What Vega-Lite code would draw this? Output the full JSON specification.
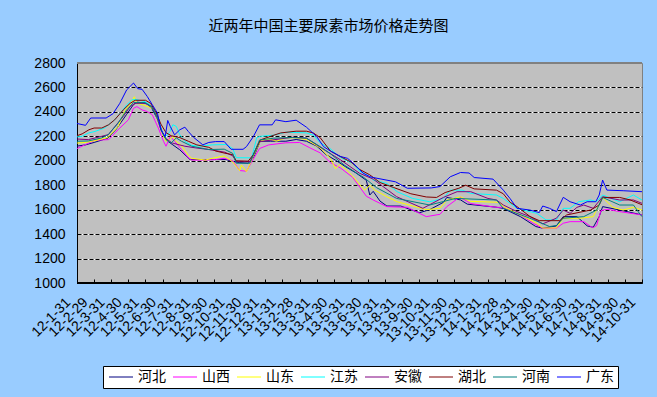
{
"$schema":"https://vega.github.io/schema/vega-lite/v6.json",
"width":565,"height":220,
"autosize":{"type":"none"},
"padding":{"left":77,"top":63,"right":15,"bottom":114},
"background":"#99CCFF",
"title":{"text":"近两年中国主要尿素市场价格走势图","font":"Noto Sans CJK SC","fontSize":15,"fontWeight":"normal","color":"#000000","anchor":"middle","dx":-31,"offset":22},
"datasets":{"d":[
{"s":"河北","t":0,"v":2120},{"s":"河北","t":0.5,"v":2130},{"s":"河北","t":1.0,"v":2150},{"s":"河北","t":1.8,"v":2185},{"s":"河北","t":2.3,"v":2260},{"s":"河北","t":2.9,"v":2380},{"s":"河北","t":3.3,"v":2460},{"s":"河北","t":3.5,"v":2480},{"s":"河北","t":4.1,"v":2470},{"s":"河北","t":4.4,"v":2420},{"s":"河北","t":4.7,"v":2340},{"s":"河北","t":4.95,"v":2240},{"s":"河北","t":5.15,"v":2185},{"s":"河北","t":5.3,"v":2160},{"s":"河北","t":5.6,"v":2130},{"s":"河北","t":6.0,"v":2090},{"s":"河北","t":6.6,"v":2010},{"s":"河北","t":8.7,"v":2010},{"s":"河北","t":9.1,"v":1995},{"s":"河北","t":9.5,"v":1985},{"s":"河北","t":10.0,"v":1980},{"s":"河北","t":10.3,"v":2024},{"s":"河北","t":10.7,"v":2160},{"s":"河北","t":11.3,"v":2160},{"s":"河北","t":12.2,"v":2160},{"s":"河北","t":12.8,"v":2174},{"s":"河北","t":13.4,"v":2160},{"s":"河北","t":14.0,"v":2120},{"s":"河北","t":14.55,"v":2050},{"s":"河北","t":15.1,"v":2005},{"s":"河北","t":15.7,"v":1950},{"s":"河北","t":16.3,"v":1900},{"s":"河北","t":16.9,"v":1840},{"s":"河北","t":17.1,"v":1720},{"s":"河北","t":17.3,"v":1750},{"s":"河北","t":17.7,"v":1670},{"s":"河北","t":18.1,"v":1630},{"s":"河北","t":18.9,"v":1630},{"s":"河北","t":20.0,"v":1575},{"s":"河北","t":20.6,"v":1600},{"s":"河北","t":21.4,"v":1660},{"s":"河北","t":21.6,"v":1700},{"s":"河北","t":22.4,"v":1680},{"s":"河北","t":22.8,"v":1645},{"s":"河北","t":24.5,"v":1620},{"s":"河北","t":24.9,"v":1610},{"s":"河北","t":25.9,"v":1543},{"s":"河北","t":26.8,"v":1462},{"s":"河北","t":27.2,"v":1448},{"s":"河北","t":28.0,"v":1467},{"s":"河北","t":28.4,"v":1543},{"s":"河北","t":29.2,"v":1543},{"s":"河北","t":29.8,"v":1467},{"s":"河北","t":30.15,"v":1456},{"s":"河北","t":30.5,"v":1543},{"s":"河北","t":30.7,"v":1625},{"s":"河北","t":31.7,"v":1597},{"s":"河北","t":33,"v":1557},
{"s":"山西","t":0,"v":2100},{"s":"山西","t":0.5,"v":2133},{"s":"山西","t":1.05,"v":2168},{"s":"山西","t":1.85,"v":2173},{"s":"山西","t":2.4,"v":2254},{"s":"山西","t":3.0,"v":2335},{"s":"山西","t":3.3,"v":2430},{"s":"山西","t":3.5,"v":2443},{"s":"山西","t":3.8,"v":2416},{"s":"山西","t":4.1,"v":2403},{"s":"山西","t":4.4,"v":2376},{"s":"山西","t":4.75,"v":2268},{"s":"山西","t":5.05,"v":2160},{"s":"山西","t":5.2,"v":2119},{"s":"山西","t":5.45,"v":2200},{"s":"山西","t":5.7,"v":2160},{"s":"山西","t":6.1,"v":2092},{"s":"山西","t":6.5,"v":2025},{"s":"山西","t":6.7,"v":2006},{"s":"山西","t":7.5,"v":2006},{"s":"山西","t":8.1,"v":2010},{"s":"山西","t":8.6,"v":2020},{"s":"山西","t":9.1,"v":2000},{"s":"山西","t":9.5,"v":1920},{"s":"山西","t":9.9,"v":1915},{"s":"山西","t":10.1,"v":1966},{"s":"山西","t":10.66,"v":2100},{"s":"山西","t":11.2,"v":2130},{"s":"山西","t":12.2,"v":2147},{"s":"山西","t":13.0,"v":2150},{"s":"山西","t":13.6,"v":2106},{"s":"山西","t":14.2,"v":2065},{"s":"山西","t":14.8,"v":1985},{"s":"山西","t":15.4,"v":1940},{"s":"山西","t":16.1,"v":1865},{"s":"山西","t":16.9,"v":1710},{"s":"山西","t":17.3,"v":1679},{"s":"山西","t":18.1,"v":1625},{"s":"山西","t":19.3,"v":1619},{"s":"山西","t":20.4,"v":1543},{"s":"山西","t":21.2,"v":1562},{"s":"山西","t":21.6,"v":1625},{"s":"山西","t":22.2,"v":1687},{"s":"山西","t":22.4,"v":1700},{"s":"山西","t":23.0,"v":1650},{"s":"山西","t":24.5,"v":1619},{"s":"山西","t":24.9,"v":1619},{"s":"山西","t":25.9,"v":1557},{"s":"山西","t":26.65,"v":1489},{"s":"山西","t":27.2,"v":1448},{"s":"山西","t":28.0,"v":1448},{"s":"山西","t":28.4,"v":1489},{"s":"山西","t":28.8,"v":1502},{"s":"山西","t":29.6,"v":1502},{"s":"山西","t":30.0,"v":1462},{"s":"山西","t":30.15,"v":1454},{"s":"山西","t":30.35,"v":1470},{"s":"山西","t":30.6,"v":1592},{"s":"山西","t":30.95,"v":1603},{"s":"山西","t":31.7,"v":1584},{"s":"山西","t":33,"v":1557},
{"s":"山东","t":0,"v":2145},{"s":"山东","t":0.5,"v":2150},{"s":"山东","t":1.05,"v":2165},{"s":"山东","t":1.8,"v":2190},{"s":"山东","t":2.4,"v":2280},{"s":"山东","t":2.8,"v":2410},{"s":"山东","t":3.2,"v":2480},{"s":"山东","t":3.35,"v":2524},{"s":"山东","t":3.5,"v":2470},{"s":"山东","t":3.8,"v":2460},{"s":"山东","t":4.3,"v":2435},{"s":"山东","t":4.5,"v":2420},{"s":"山东","t":4.7,"v":2335},{"s":"山东","t":5.0,"v":2215},{"s":"山东","t":5.2,"v":2160},{"s":"山东","t":5.4,"v":2173},{"s":"山东","t":5.6,"v":2200},{"s":"山东","t":5.75,"v":2165},{"s":"山东","t":6.1,"v":2125},{"s":"山东","t":6.5,"v":2045},{"s":"山东","t":6.7,"v":2020},{"s":"山东","t":7.5,"v":2006},{"s":"山东","t":7.9,"v":2020},{"s":"山东","t":8.6,"v":2040},{"s":"山东","t":9.1,"v":1990},{"s":"山东","t":9.5,"v":1919},{"s":"山东","t":9.6,"v":1965},{"s":"山东","t":9.9,"v":1911},{"s":"山东","t":10.3,"v":2038},{"s":"山东","t":10.7,"v":2160},{"s":"山东","t":11.2,"v":2180},{"s":"山东","t":11.65,"v":2160},{"s":"山东","t":12.2,"v":2188},{"s":"山东","t":12.8,"v":2188},{"s":"山东","t":13.4,"v":2174},{"s":"山东","t":14.2,"v":2106},{"s":"山东","t":14.8,"v":2020},{"s":"山东","t":15.1,"v":1935},{"s":"山东","t":15.35,"v":1970},{"s":"山东","t":15.7,"v":1930},{"s":"山东","t":16.1,"v":1875},{"s":"山东","t":16.6,"v":1790},{"s":"山东","t":16.8,"v":1760},{"s":"山东","t":17.1,"v":1800},{"s":"山东","t":17.4,"v":1760},{"s":"山东","t":18.1,"v":1706},{"s":"山东","t":18.7,"v":1665},{"s":"山东","t":20.4,"v":1600},{"s":"山东","t":21.2,"v":1611},{"s":"山东","t":21.6,"v":1679},{"s":"山东","t":22.4,"v":1705},{"s":"山东","t":23.0,"v":1668},{"s":"山东","t":24.7,"v":1660},{"s":"山东","t":24.9,"v":1625},{"s":"山东","t":26.1,"v":1543},{"s":"山东","t":26.85,"v":1489},{"s":"山东","t":27.2,"v":1450},{"s":"山东","t":28.0,"v":1450},{"s":"山东","t":28.4,"v":1530},{"s":"山东","t":29.4,"v":1530},{"s":"山东","t":30.15,"v":1543},{"s":"山东","t":30.7,"v":1700},{"s":"山东","t":31.3,"v":1619},{"s":"山东","t":31.9,"v":1597},{"s":"山东","t":32.5,"v":1619},{"s":"山东","t":33,"v":1597},
{"s":"江苏","t":0,"v":2195},{"s":"江苏","t":0.3,"v":2200},{"s":"江苏","t":0.66,"v":2227},{"s":"江苏","t":1.05,"v":2240},{"s":"江苏","t":1.6,"v":2268},{"s":"江苏","t":2.2,"v":2335},{"s":"江苏","t":2.6,"v":2403},{"s":"江苏","t":2.9,"v":2457},{"s":"江苏","t":3.2,"v":2497},{"s":"江苏","t":3.4,"v":2503},{"s":"江苏","t":3.97,"v":2484},{"s":"江苏","t":4.26,"v":2457},{"s":"江苏","t":4.56,"v":2403},{"s":"江苏","t":4.85,"v":2281},{"s":"江苏","t":5.04,"v":2214},{"s":"江苏","t":5.2,"v":2200},{"s":"江苏","t":5.43,"v":2240},{"s":"江苏","t":5.6,"v":2295},{"s":"江苏","t":5.8,"v":2281},{"s":"江苏","t":6.0,"v":2214},{"s":"江苏","t":6.3,"v":2160},{"s":"江苏","t":6.7,"v":2125},{"s":"江苏","t":7.3,"v":2120},{"s":"江苏","t":7.9,"v":2130},{"s":"江苏","t":8.7,"v":2133},{"s":"江苏","t":9.1,"v":2100},{"s":"江苏","t":9.3,"v":2025},{"s":"江苏","t":10.2,"v":2024},{"s":"江苏","t":10.5,"v":2190},{"s":"江苏","t":10.7,"v":2200},{"s":"江苏","t":11.5,"v":2210},{"s":"江苏","t":12.2,"v":2234},{"s":"江苏","t":13.4,"v":2228},{"s":"江苏","t":13.8,"v":2210},{"s":"江苏","t":14.2,"v":2147},{"s":"江苏","t":14.78,"v":2100},{"s":"江苏","t":15.35,"v":2030},{"s":"江苏","t":16.1,"v":1977},{"s":"江苏","t":16.5,"v":1916},{"s":"江苏","t":17.1,"v":1870},{"s":"江苏","t":17.3,"v":1842},{"s":"江苏","t":18.1,"v":1815},{"s":"江苏","t":18.7,"v":1747},{"s":"江苏","t":19.6,"v":1692},{"s":"江苏","t":20.6,"v":1665},{"s":"江苏","t":21.4,"v":1692},{"s":"江苏","t":21.8,"v":1760},{"s":"江苏","t":22.5,"v":1760},{"s":"江苏","t":23.0,"v":1733},{"s":"江苏","t":24.5,"v":1720},{"s":"江苏","t":24.9,"v":1692},{"s":"江苏","t":25.7,"v":1611},{"s":"江苏","t":26.45,"v":1584},{"s":"江苏","t":26.85,"v":1570},{"s":"江苏","t":27.4,"v":1516},{"s":"江苏","t":28.0,"v":1516},{"s":"江苏","t":28.4,"v":1611},{"s":"江苏","t":28.8,"v":1611},{"s":"江苏","t":29.3,"v":1665},{"s":"江苏","t":30.0,"v":1679},{"s":"江苏","t":30.35,"v":1665},{"s":"江苏","t":30.7,"v":1720},{"s":"江苏","t":31.7,"v":1665},{"s":"江苏","t":32.5,"v":1720},{"s":"江苏","t":33,"v":1679},
{"s":"安徽","t":0,"v":2178},{"s":"安徽","t":0.66,"v":2173},{"s":"安徽","t":1.44,"v":2200},{"s":"安徽","t":1.83,"v":2214},{"s":"安徽","t":2.22,"v":2281},{"s":"安徽","t":2.7,"v":2362},{"s":"安徽","t":3.1,"v":2443},{"s":"安徽","t":3.4,"v":2470},{"s":"安徽","t":3.97,"v":2470},{"s":"安徽","t":4.36,"v":2443},{"s":"安徽","t":4.65,"v":2362},{"s":"安徽","t":4.9,"v":2254},{"s":"安徽","t":5.15,"v":2187},{"s":"安徽","t":5.55,"v":2146},{"s":"安徽","t":5.9,"v":2133},{"s":"安徽","t":6.3,"v":2119},{"s":"安徽","t":6.9,"v":2106},{"s":"安徽","t":7.7,"v":2092},{"s":"安徽","t":8.64,"v":2070},{"s":"安徽","t":9.1,"v":2040},{"s":"安徽","t":9.3,"v":1993},{"s":"安徽","t":10.1,"v":1993},{"s":"安徽","t":10.66,"v":2157},{"s":"安徽","t":11.4,"v":2170},{"s":"安徽","t":12.6,"v":2193},{"s":"安徽","t":13.4,"v":2185},{"s":"安徽","t":14.0,"v":2130},{"s":"安徽","t":14.55,"v":2080},{"s":"安徽","t":15.4,"v":2007},{"s":"安徽","t":16.5,"v":1898},{"s":"安徽","t":17.3,"v":1850},{"s":"安徽","t":18.67,"v":1706},{"s":"安徽","t":20.2,"v":1611},{"s":"安徽","t":21.4,"v":1700},{"s":"安徽","t":22.2,"v":1747},{"s":"安徽","t":23.0,"v":1747},{"s":"安徽","t":24.0,"v":1692},{"s":"安徽","t":24.5,"v":1679},{"s":"安徽","t":24.9,"v":1638},{"s":"安徽","t":25.7,"v":1584},{"s":"安徽","t":26.45,"v":1543},{"s":"安徽","t":27.2,"v":1484},{"s":"安徽","t":28.0,"v":1530},{"s":"安徽","t":28.4,"v":1597},{"s":"安徽","t":28.8,"v":1570},{"s":"安徽","t":29.2,"v":1619},{"s":"安徽","t":29.6,"v":1638},{"s":"安徽","t":30.15,"v":1611},{"s":"安徽","t":30.7,"v":1706},{"s":"安徽","t":31.7,"v":1679},{"s":"安徽","t":32.5,"v":1679},{"s":"安徽","t":33,"v":1652},
{"s":"湖北","t":0,"v":2205},{"s":"湖北","t":0.3,"v":2220},{"s":"湖北","t":0.7,"v":2254},{"s":"湖北","t":1.0,"v":2268},{"s":"湖北","t":1.45,"v":2268},{"s":"湖北","t":1.85,"v":2295},{"s":"湖北","t":2.2,"v":2335},{"s":"湖北","t":2.7,"v":2416},{"s":"湖北","t":3.1,"v":2470},{"s":"湖北","t":3.4,"v":2495},{"s":"湖北","t":4.0,"v":2495},{"s":"湖北","t":4.3,"v":2470},{"s":"湖北","t":4.6,"v":2400},{"s":"湖北","t":4.9,"v":2300},{"s":"湖北","t":5.2,"v":2230},{"s":"湖北","t":5.5,"v":2205},{"s":"湖北","t":6.0,"v":2190},{"s":"湖北","t":6.5,"v":2160},{"s":"湖北","t":7.0,"v":2130},{"s":"湖北","t":7.7,"v":2110},{"s":"湖北","t":8.1,"v":2080},{"s":"湖北","t":8.7,"v":2060},{"s":"湖北","t":9.1,"v":2050},{"s":"湖北","t":9.3,"v":2000},{"s":"湖北","t":10.0,"v":1997},{"s":"湖北","t":10.3,"v":2050},{"s":"湖北","t":10.7,"v":2170},{"s":"湖北","t":11.3,"v":2200},{"s":"湖北","t":11.9,"v":2228},{"s":"湖北","t":12.8,"v":2242},{"s":"湖北","t":13.4,"v":2242},{"s":"湖北","t":13.8,"v":2228},{"s":"湖北","t":14.2,"v":2190},{"s":"湖北","t":14.8,"v":2080},{"s":"湖北","t":15.3,"v":2040},{"s":"湖北","t":16.0,"v":1990},{"s":"湖北","t":16.5,"v":1930},{"s":"湖北","t":17.1,"v":1885},{"s":"湖北","t":17.7,"v":1822},{"s":"湖北","t":18.5,"v":1781},{"s":"湖北","t":19.5,"v":1730},{"s":"湖北","t":20.4,"v":1704},{"s":"湖北","t":21.0,"v":1700},{"s":"湖北","t":21.5,"v":1740},{"s":"湖北","t":22.3,"v":1775},{"s":"湖北","t":22.7,"v":1800},{"s":"湖北","t":23.2,"v":1770},{"s":"湖北","t":24.5,"v":1760},{"s":"湖北","t":24.9,"v":1730},{"s":"湖北","t":25.3,"v":1660},{"s":"湖北","t":25.7,"v":1625},{"s":"湖北","t":26.45,"v":1545},{"s":"湖北","t":27.0,"v":1510},{"s":"湖北","t":28.2,"v":1510},{"s":"湖北","t":28.6,"v":1557},{"s":"湖北","t":30.0,"v":1597},{"s":"湖北","t":30.5,"v":1638},{"s":"湖北","t":30.7,"v":1700},{"s":"湖北","t":31.7,"v":1700},{"s":"湖北","t":32.3,"v":1680},{"s":"湖北","t":33,"v":1640},
{"s":"河南","t":0,"v":2160},{"s":"河南","t":0.66,"v":2162},{"s":"河南","t":1.44,"v":2187},{"s":"河南","t":1.83,"v":2214},{"s":"河南","t":2.4,"v":2308},{"s":"河南","t":2.9,"v":2416},{"s":"河南","t":3.3,"v":2476},{"s":"河南","t":3.97,"v":2476},{"s":"河南","t":4.36,"v":2443},{"s":"河南","t":4.75,"v":2335},{"s":"河南","t":5.0,"v":2227},{"s":"河南","t":5.2,"v":2173},{"s":"河南","t":5.5,"v":2146},{"s":"河南","t":5.8,"v":2187},{"s":"河南","t":6.1,"v":2160},{"s":"河南","t":6.7,"v":2119},{"s":"河南","t":7.7,"v":2092},{"s":"河南","t":8.6,"v":2095},{"s":"河南","t":9.1,"v":2060},{"s":"河南","t":9.3,"v":1980},{"s":"河南","t":10.1,"v":1980},{"s":"河南","t":10.66,"v":2170},{"s":"河南","t":11.5,"v":2185},{"s":"河南","t":12.6,"v":2190},{"s":"河南","t":13.4,"v":2185},{"s":"河南","t":14.2,"v":2116},{"s":"河南","t":14.78,"v":2060},{"s":"河南","t":15.6,"v":1966},{"s":"河南","t":16.5,"v":1884},{"s":"河南","t":16.7,"v":1869},{"s":"河南","t":17.5,"v":1780},{"s":"河南","t":18.67,"v":1692},{"s":"河南","t":20.6,"v":1638},{"s":"河南","t":22.1,"v":1692},{"s":"河南","t":24.5,"v":1679},{"s":"河南","t":24.9,"v":1611},{"s":"河南","t":26.45,"v":1530},{"s":"河南","t":27.6,"v":1462},{"s":"河南","t":28.0,"v":1470},{"s":"河南","t":28.4,"v":1530},{"s":"河南","t":29.6,"v":1543},{"s":"河南","t":30.35,"v":1597},{"s":"河南","t":30.7,"v":1700},{"s":"河南","t":31.7,"v":1638},{"s":"河南","t":32.5,"v":1638},{"s":"河南","t":32.9,"v":1560},{"s":"河南","t":33,"v":1543},
{"s":"广东","t":0,"v":2305},{"s":"广东","t":0.5,"v":2290},{"s":"广东","t":0.8,"v":2350},{"s":"广东","t":1.7,"v":2350},{"s":"广东","t":2.1,"v":2385},{"s":"广东","t":2.5,"v":2470},{"s":"广东","t":2.9,"v":2580},{"s":"广东","t":3.3,"v":2636},{"s":"广东","t":3.55,"v":2590},{"s":"广东","t":3.8,"v":2585},{"s":"广东","t":4.1,"v":2527},{"s":"广东","t":4.4,"v":2458},{"s":"广东","t":4.7,"v":2390},{"s":"广东","t":4.9,"v":2253},{"s":"广东","t":5.15,"v":2198},{"s":"广东","t":5.3,"v":2330},{"s":"广东","t":5.45,"v":2280},{"s":"广东","t":5.7,"v":2212},{"s":"广东","t":6.0,"v":2253},{"s":"广东","t":6.3,"v":2275},{"s":"广东","t":6.5,"v":2240},{"s":"广东","t":6.8,"v":2193},{"s":"广东","t":7.35,"v":2130},{"s":"广东","t":7.7,"v":2150},{"s":"广东","t":8.1,"v":2157},{"s":"广东","t":8.6,"v":2157},{"s":"广东","t":9.0,"v":2094},{"s":"广东","t":9.7,"v":2094},{"s":"广东","t":9.9,"v":2116},{"s":"广东","t":10.3,"v":2198},{"s":"广东","t":10.66,"v":2294},{"s":"广东","t":11.4,"v":2294},{"s":"广东","t":11.6,"v":2335},{"s":"广东","t":12.2,"v":2320},{"s":"广东","t":12.8,"v":2332},{"s":"广东","t":13.4,"v":2275},{"s":"广东","t":14.0,"v":2198},{"s":"广东","t":14.4,"v":2116},{"s":"广东","t":14.8,"v":2080},{"s":"广东","t":15.4,"v":2035},{"s":"广东","t":15.8,"v":2020},{"s":"广东","t":16.1,"v":1985},{"s":"广东","t":16.7,"v":1900},{"s":"广东","t":17.1,"v":1870},{"s":"广东","t":17.3,"v":1863},{"s":"广东","t":18.6,"v":1828},{"s":"广东","t":19.3,"v":1775},{"s":"广东","t":20.7,"v":1778},{"s":"广东","t":21.2,"v":1789},{"s":"广东","t":21.8,"v":1869},{"s":"广东","t":22.4,"v":1904},{"s":"广东","t":22.9,"v":1900},{"s":"广东","t":23.2,"v":1863},{"s":"广东","t":24.3,"v":1850},{"s":"广东","t":24.9,"v":1760},{"s":"广东","t":25.3,"v":1690},{"s":"广东","t":25.7,"v":1611},{"s":"广东","t":26.45,"v":1597},{"s":"广东","t":27.0,"v":1576},{"s":"广东","t":27.2,"v":1630},{"s":"广东","t":27.6,"v":1611},{"s":"广东","t":28.0,"v":1584},{"s":"广东","t":28.4,"v":1701},{"s":"广东","t":28.8,"v":1665},{"s":"广东","t":29.4,"v":1638},{"s":"广东","t":29.8,"v":1665},{"s":"广东","t":30.3,"v":1665},{"s":"广东","t":30.5,"v":1720},{"s":"广东","t":30.7,"v":1842},{"s":"广东","t":30.95,"v":1760},{"s":"广东","t":31.9,"v":1755},{"s":"广东","t":33,"v":1747}
]},
"data":{"name":"d"},
"layer":[
{"mark":{"type":"rule","color":"#000000","strokeWidth":1},
 "encoding":{"y":{"datum":1000,"type":"quantitative","scale":{"domain":[1000,2800],"nice":false,"zero":false},
   "axis":{"orient":"left","values":[1000,1200,1400,1600,1800,2000,2200,2400,2600,2800],"format":"d","grid":false,"ticks":false,"domain":true,"domainColor":"#000000","labelFont":"Liberation Sans","labelFontSize":14,"labelColor":"#000000","labelPadding":12,"title":null}}}},
{"mark":{"type":"line","strokeWidth":1},
 "encoding":{
  "x":{"field":"t","type":"quantitative","scale":{"domain":[0,33],"nice":false,"zero":false},
   "axis":{"values":[0,1,2,3,4,5,6,7,8,9,10,11,12,13,14,15,16,17,18,19,20,21,22,23,24,25,26,27,28,29,30,31,32,33],
    "labelExpr":"['12-1-31','12-2-29','12-3-31','12-4-30','12-5-31','12-6-30','12-7-31','12-8-31','12-9-30','12-10-31','12-11-30','12-12-31','13-1-31','13-2-28','13-3-31','13-4-30','13-5-31','13-6-30','13-7-31','13-8-31','13-9-30','13-10-31','13-11-30','13-12-31','14-1-31','14-2-28','14-3-31','14-4-30','14-5-31','14-6-30','14-7-31','14-8-31','14-9-30','14-10-31'][datum.value]",
    "labelAngle":-45,"labelAlign":"right","labelBaseline":"middle","labelOverlap":false,"labelFont":"Liberation Sans","labelFontSize":14,"labelColor":"#000000","labelPadding":21,"labelOffset":-9,
    "grid":false,"ticks":true,"tickSize":-4,"tickColor":"#000000","domain":true,"domainColor":"#000000","title":null,"labelBound":false,"labelFlush":false}},
  "y":{"field":"v","type":"quantitative",
   "axis":{"orient":"left","values":[1200,1400,1600,1800,2000,2200,2400,2600],"grid":true,"gridColor":"#FFFFFF","gridWidth":1,"gridOpacity":1,"labels":false,"ticks":false,"domain":false,"title":null}},
  "color":{"field":"s","type":"nominal","scale":{"domain":["河北","山西","山东","江苏","安徽","湖北","河南","广东"],"range":["#000080","#FF00FF","#FFFF00","#00FFFF","#800080","#800000","#008080","#0000FF"]},"legend":{"title":null}}
 }},
{"mark":{"type":"rule","color":"#808080","strokeWidth":1},
 "encoding":{"y":{"datum":2800,"type":"quantitative",
   "axis":{"orient":"left","values":[1200,1400,1600,1800,2000,2200,2400,2600],"grid":true,"gridColor":"#000000","gridDash":[4,2],"gridWidth":1,"gridOpacity":1,"labels":false,"ticks":false,"domain":false,"title":null}}}}
],
"resolve":{"axis":{"y":"independent"}},
"config":{
 "view":{"fill":"#C0C0C0","stroke":"#808080"},
 "legend":{"orient":"none","legendX":26,"legendY":303,"direction":"horizontal","columns":8,"fillColor":"#FFFFFF","strokeColor":"#000000","padding":4,"symbolType":"M-1,0H3.8","symbolSize":100,"symbolStrokeWidth":1,"labelFont":"Noto Sans CJK SC","labelFontSize":14,"labelColor":"#000000","labelOffset":17,"columnPadding":5,"labelLimit":0}
}
}
